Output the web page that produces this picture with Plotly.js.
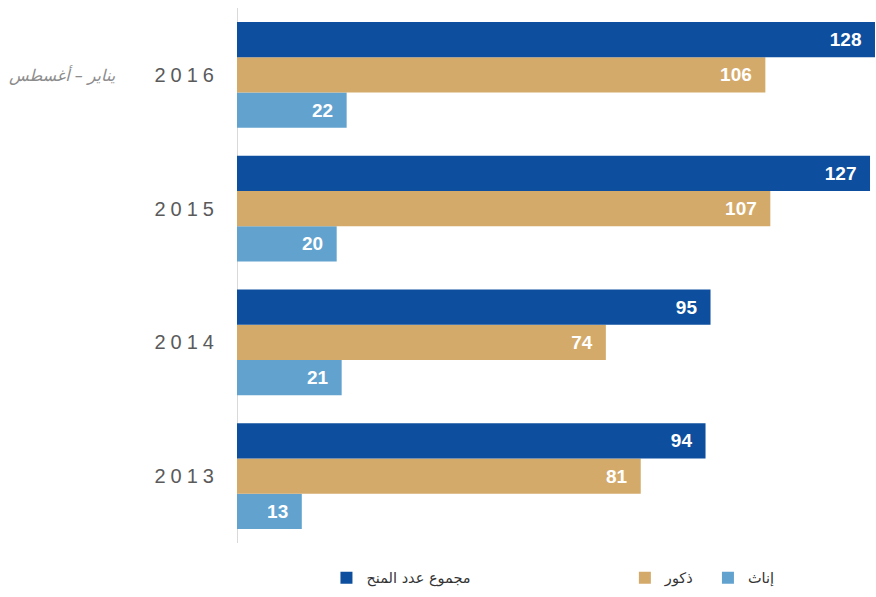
<!DOCTYPE html>
<html>
<head>
<meta charset="utf-8">
<script src="https://cdn.plot.ly/plotly-3.0.1.min.js"></script>
<style>html,body{margin:0;padding:0;background:#fff;}#chart{width:876px;height:597px;}</style>
</head>
<body>
<div id="chart"></div>
<script>
var years = ['2013', '2014', '2015', '2016'];
var yearLabels = ['2013', '2014', '2015', '2016'];
var yearNote = 'يناير – أغسطس';
var totalGrants = [94, 95, 127, 128];
var males = [81, 74, 107, 106];
var females = [13, 21, 20, 22];
var seriesNames = ['مجموع عدد المنح', 'ذكور', 'إناث'];
var seriesColors = ['#0d4f9e', '#d4aa6b', '#62a2cf'];

var tickText = yearLabels.map(function (y) {
  return '<span style="letter-spacing:5px">' + y + '</span>';
});

function barTrace(vals, name, color, legendId) {
  return {
    type: 'bar', orientation: 'h', y: years, x: vals, name: name,
    marker: {color: color, line: {width: 0}},
    text: vals.map(function (v) { return v + '\u00a0\u00a0'; }),
    textposition: 'inside', insidetextanchor: 'end',
    textfont: {color: '#ffffff', size: 19, family: 'Liberation Sans, Arial, sans-serif', weight: 'bold'},
    cliponaxis: false, legend: legendId, hoverinfo: 'skip'
  };
}

var data = [
  barTrace(females, seriesNames[2], seriesColors[2], 'legend3'),
  barTrace(males, seriesNames[1], seriesColors[1], 'legend2'),
  barTrace(totalGrants, seriesNames[0], seriesColors[0], 'legend')
];

function legendAt(x) {
  return {orientation: 'h', x: x, xanchor: 'left', y: -0.065, yanchor: 'middle',
    font: {family: 'DejaVu Sans, sans-serif', size: 14.5, color: '#333333'},
    bgcolor: 'rgba(0,0,0,0)', itemclick: false, itemdoubleclick: false};
}

var layout = {
  width: 876, height: 597,
  margin: {l: 237, r: 0, t: 8, b: 54},
  paper_bgcolor: '#ffffff', plot_bgcolor: '#ffffff',
  barmode: 'group', bargap: 0.21, bargroupgap: 0,
  showlegend: true,
  xaxis: {range: [0, 128.2], showgrid: false, showticklabels: false, zeroline: true,
    zerolinecolor: '#d9d9d9', zerolinewidth: 1, fixedrange: true},
  yaxis: {type: 'category', categoryorder: 'array', categoryarray: years,
    tickmode: 'array', tickvals: years, ticktext: tickText,
    showgrid: false, showline: false, ticks: '', ticklabelstandoff: 17,
    tickfont: {family: 'Liberation Sans, Arial, sans-serif', size: 20, color: '#5a5a5a'},
    fixedrange: true},
  annotations: [{
    text: yearNote, xref: 'paper', yref: 'y', x: -0.186, y: years.indexOf('2016'),
    xanchor: 'right', yanchor: 'middle', showarrow: false,
    font: {family: 'DejaVu Sans, sans-serif', size: 16, style: 'italic', color: '#8c8c8c'}
  }],
  legend: legendAt(0.14),
  legend2: legendAt(0.607),
  legend3: legendAt(0.737),
  font: {family: 'Liberation Sans, Arial, sans-serif'}
};

Plotly.newPlot('chart', data, layout, {displayModeBar: false, staticPlot: true});
</script>
</body>
</html>
